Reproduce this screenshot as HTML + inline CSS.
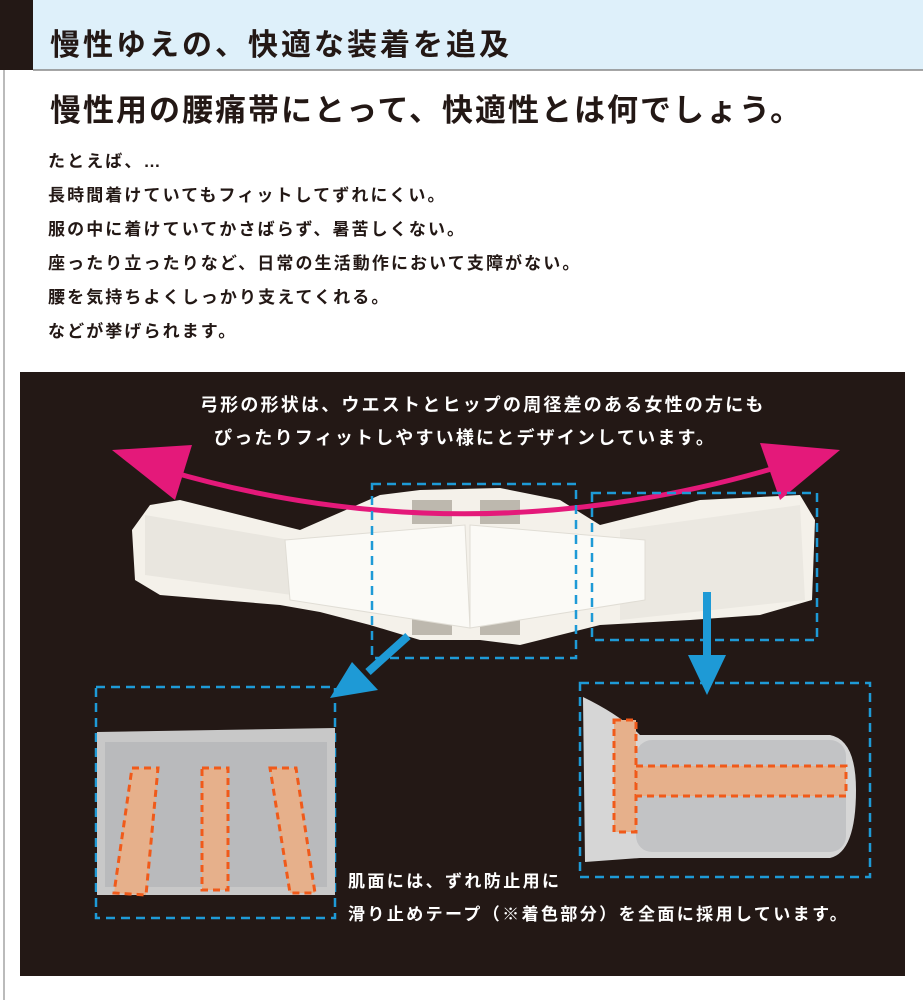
<!DOCTYPE html>
<html><head><meta charset="utf-8"><style>
body{margin:0;width:923px;height:1000px;background:#fff;overflow:hidden;font-family:"Liberation Sans","Noto Sans CJK JP",sans-serif}
.j{font-family:"Liberation Sans","Noto Sans CJK JP",sans-serif;font-weight:bold}
</style></head><body>
<svg width="923" height="1000" viewBox="0 0 923 1000" xmlns="http://www.w3.org/2000/svg">
<rect x="0" y="0" width="923" height="1000" fill="#fff"/>
<rect x="33" y="0" width="890" height="70" fill="#def0fa"/>
<line x1="33" y1="70" x2="923" y2="70" stroke="#888" stroke-width="1.5"/>
<rect x="0" y="0" width="33" height="70" fill="#231815"/>
<line x1="4" y1="70" x2="4" y2="1000" stroke="#bbb" stroke-width="2"/>
<text x="50" y="55" class="j" font-size="30" letter-spacing="3" fill="#231815">慢性ゆえの、快適な装着を追及</text>
<text x="50" y="121" class="j" font-size="31" letter-spacing="2" fill="#231815">慢性用の腰痛帯にとって、快適性とは何でしょう。</text>
<g class="j" font-size="17" letter-spacing="2.1" fill="#231815">
<text x="48" y="167">たとえば、…</text>
<text x="48" y="201">長時間着けていてもフィットしてずれにくい。</text>
<text x="48" y="235">服の中に着けていてかさばらず、暑苦しくない。</text>
<text x="48" y="269">座ったり立ったりなど、日常の生活動作において支障がない。</text>
<text x="48" y="303">腰を気持ちよくしっかり支えてくれる。</text>
<text x="48" y="337">などが挙げられます。</text>
</g>
<rect x="20" y="372" width="885" height="604" fill="#231815"/>
<g class="j" font-size="18" letter-spacing="2.2" fill="#fff">
<text x="200" y="411">弓形の形状は、ウエストとヒップの周径差のある女性の方にも</text>
<text x="214" y="444">ぴったりフィットしやすい様にとデザインしています。</text>
</g>
<!-- belt -->
<path d="M150 505 L180 500 L300 530 L380 495 L420 490 L500 488 L560 500 L600 525 L700 500 L800 495 L815 520 L812 600 L760 615 L690 620 L600 625 L560 635 L520 645 L480 640 L420 640 L370 625 L320 612 L280 605 L160 595 L135 580 L132 530 Z" fill="#f4f1ea"/>
<path d="M145 515 L290 540 L292 595 L145 575 Z" fill="#e9e6df"/>
<path d="M620 530 L800 505 L805 600 L620 620 Z" fill="#ebe8e1"/>
<rect x="412" y="500" width="40" height="24" fill="#bdb8ae"/>
<rect x="480" y="500" width="40" height="24" fill="#bdb8ae"/>
<rect x="412" y="615" width="40" height="20" fill="#bdb8ae"/>
<rect x="480" y="615" width="40" height="20" fill="#bdb8ae"/>
<path d="M285 540 L465 525 L470 628 L290 600 Z" fill="#fbfaf6" stroke="#e0ddd5"/>
<path d="M470 525 L645 540 L645 600 L470 628 Z" fill="#fbfaf6" stroke="#e0ddd5"/>
<!-- pink arc -->
<path d="M165 470 Q470 560 785 465" fill="none" stroke="#e4197a" stroke-width="5"/>
<polygon points="112,450 192,445 175,500" fill="#e4197a"/>
<polygon points="840,450 760,443 780,500" fill="#e4197a"/>
<!-- dashed boxes -->
<g fill="none" stroke="#1e9ad6" stroke-width="2.5" stroke-dasharray="9,6">
<rect x="372" y="484" width="204" height="174"/>
<rect x="592" y="493" width="225" height="147"/>
<rect x="96" y="687" width="239" height="231"/>
<rect x="580" y="683" width="290" height="194"/>
</g>
<!-- blue arrows -->
<line x1="408" y1="636" x2="368" y2="672" stroke="#1e9ad6" stroke-width="8"/>
<polygon points="330,698 378,690 352,662" fill="#1e9ad6"/>
<line x1="707" y1="592" x2="707" y2="660" stroke="#1e9ad6" stroke-width="8"/>
<polygon points="688,655 726,655 707,695" fill="#1e9ad6"/>
<!-- bottom left panel -->
<path d="M97 732 L335 728 L335 895 L97 895 Z" fill="#c8c8c8"/>
<rect x="105" y="742" width="222" height="145" fill="#b9babc"/>
<g fill="#e6b08b" stroke="#f05a1a" stroke-width="3" stroke-dasharray="7,5">
<path d="M132 768 L158 768 L146 895 L114 893 Z"/>
<rect x="202" y="768" width="26" height="122"/>
<path d="M270 768 L296 768 L315 893 L290 893 Z"/>
</g>
<!-- bottom right panel -->
<path d="M583 697 Q620 715 640 735 L830 735 Q856 740 856 790 Q856 852 830 858 L640 858 L585 862 Z" fill="#d6d6d6"/>
<rect x="636" y="740" width="210" height="112" rx="16" fill="#c2c3c5"/>
<g fill="#e6b08b" stroke="#f05a1a" stroke-width="3" stroke-dasharray="7,5">
<rect x="614" y="720" width="22" height="112"/>
<rect x="636" y="766" width="210" height="30"/>
</g>
<g class="j" font-size="17" letter-spacing="2.4" fill="#fff">
<text x="348" y="887">肌面には、ずれ防止用に</text>
<text x="348" y="920">滑り止めテープ（※着色部分）を全面に採用しています。</text>
</g>
</svg>
</body></html>
